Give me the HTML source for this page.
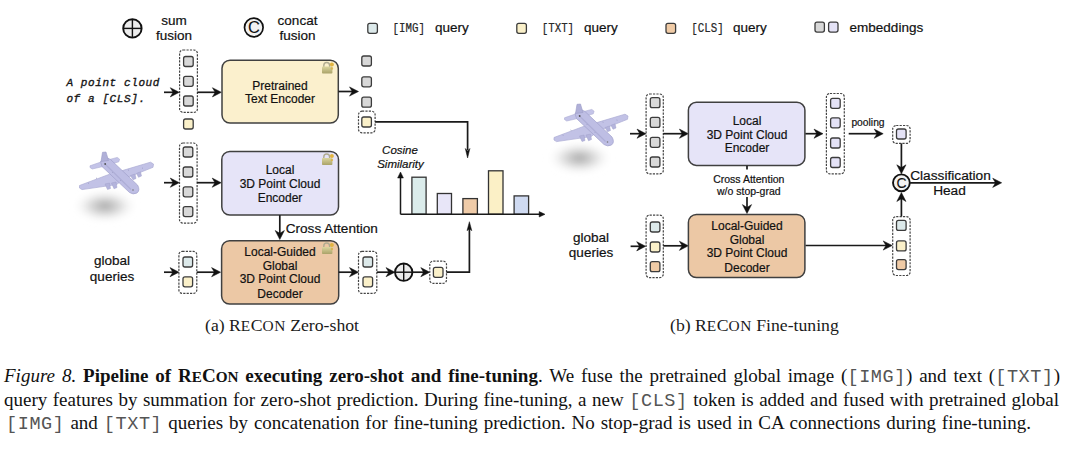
<!DOCTYPE html>
<html><head><meta charset="utf-8">
<style>
html,body{margin:0;padding:0;background:#fff;width:1080px;height:449px;overflow:hidden;}
svg{position:absolute;left:0;top:0;}
svg text{font-family:"Liberation Sans",sans-serif;fill:#111;stroke:#111;stroke-width:0.2px;}
.sub{position:absolute;top:315px;font-family:"Liberation Serif",serif;font-size:17.7px;line-height:20px;color:#1a1a1a;white-space:nowrap;}
.sc{font-size:0.8em;}
.sub .sc{font-size:0.87em;letter-spacing:0.5px}
.cap{position:absolute;font-family:"Liberation Serif",serif;font-size:19px;line-height:23px;color:#111;text-align:justify;text-align-last:justify;}
.cap tt{font-family:"Liberation Mono",monospace;font-size:18.5px;letter-spacing:0.6px;color:#555;}
</style></head><body>
<svg width="1080" height="449" viewBox="0 0 1080 449">

<defs>
 <filter id="blur2" x="-50%" y="-50%" width="200%" height="200%"><feGaussianBlur stdDeviation="3"/></filter>
 <linearGradient id="lockg" x1="0" y1="0" x2="0" y2="1"><stop offset="0" stop-color="#dcd6a0"/><stop offset="1" stop-color="#a9a268"/></linearGradient>
 <radialGradient id="shad"><stop offset="0" stop-color="#8f8f8f" stop-opacity="0.8"/><stop offset="0.45" stop-color="#b4b4b4" stop-opacity="0.5"/><stop offset="1" stop-color="#fff" stop-opacity="0"/></radialGradient>
 <g id="plane">
  <ellipse cx="105" cy="206" rx="33" ry="17" fill="url(#shad)" filter="url(#blur2)"/>
  <path d="M79.5,185.5 L109.6,174.2 L122.3,170.6 L150.5,162.2 L153.5,164 L153,167.3 L124.6,178.6 L116.5,184.6 L82,189.6 L79.5,188 Z" fill="#c2c2e6" stroke="#acacd4" stroke-width="0.7"/>
  <path d="M105,184 L109.5,183 L110.5,188.5 L107.5,189.5 Z M111.5,183 L116,182 L117,187.5 L114,188.8 Z M130.5,175.5 L135,174 L136,178.5 L133,179.8 Z M136.5,173.3 L140.5,171.8 L141.5,176 L138.5,177.3 Z" fill="#b4b4dc" stroke="#a2a2cc" stroke-width="0.5"/>
  <path d="M90,165.8 L103.8,161 L117.3,157.4 L119.6,159.2 L118.8,161.8 L104,166.3 L92.2,169 L90,167.5 Z" fill="#c4c4e8" stroke="#acacd4" stroke-width="0.6"/>
  <path d="M100.5,161.5 L105.5,157 L110.5,159.5 L137.5,185 Q140.5,190 137,193 Q133,195 129.5,192.5 L102,166.5 Z" fill="#bebee4" stroke="#a0a0cc" stroke-width="0.7"/>
  <path d="M101,161.5 L102.5,152.3 L106,152 L108.5,160.5 Z" fill="#b0b0d8" stroke="#9c9cc8" stroke-width="0.6"/>
  <path d="M104,163 L131,189.5" stroke="#a4a4ce" stroke-width="1.2" opacity="0.6"/>
  <path d="M96,178 l1,0.5 M88,183 l1,0.4 M128,170 l1,0.3 M142,168 l1,0.3 M120,180 l0.8,0.8 M112,172 l0.8,0.8" stroke="#9a9ac4" stroke-width="0.8"/>
  <circle cx="105.2" cy="164" r="0.9" fill="#555"/>
  <circle cx="133" cy="190" r="0.8" fill="#777"/>
 </g>
</defs>
<circle cx="132.4" cy="28.4" r="9.2" fill="#ececec" stroke="#111" stroke-width="1.9"/>
<line x1="123.2" y1="28.4" x2="141.6" y2="28.4" stroke="#111" stroke-width="1.4249999999999998"/>
<line x1="132.4" y1="19.2" x2="132.4" y2="37.599999999999994" stroke="#111" stroke-width="1.4249999999999998"/>
<text x="174" y="25" font-size="13.5" text-anchor="middle" >sum</text>
<text x="174" y="40.3" font-size="13.5" text-anchor="middle" >fusion</text>
<circle cx="253.8" cy="27.5" r="9.3" fill="#f2f2f2" stroke="#111" stroke-width="1.7"/>
<text x="254.0" y="33.44" font-size="16.5" text-anchor="middle" style="stroke-width:0.1px">C</text>
<text x="297.5" y="25" font-size="13.5" text-anchor="middle" >concat</text>
<text x="297.5" y="40.3" font-size="13.5" text-anchor="middle" >fusion</text>
<rect x="367.8" y="23.3" width="9.6" height="10" rx="2" fill="#dce9ea" stroke="#3c3c3c" stroke-width="1.3"/>
<text x="392.6" y="32.2" font-size="13.2" text-anchor="start" textLength="32.4" lengthAdjust="spacingAndGlyphs" style="font-family:'Liberation Mono',monospace;fill:#2a2a2a">[IMG]</text>
<text x="435" y="32.2" font-size="13.5" text-anchor="start" >query</text>
<rect x="516.8" y="23.3" width="9.6" height="10" rx="2" fill="#faf0c9" stroke="#3c3c3c" stroke-width="1.3"/>
<text x="541.7" y="32.2" font-size="13.2" text-anchor="start" textLength="32.4" lengthAdjust="spacingAndGlyphs" style="font-family:'Liberation Mono',monospace;fill:#2a2a2a">[TXT]</text>
<text x="583.9" y="32.2" font-size="13.5" text-anchor="start" >query</text>
<rect x="666" y="23.3" width="9.6" height="10" rx="2" fill="#f0cba6" stroke="#3c3c3c" stroke-width="1.3"/>
<text x="691.3" y="32.2" font-size="13.2" text-anchor="start" textLength="32.4" lengthAdjust="spacingAndGlyphs" style="font-family:'Liberation Mono',monospace;fill:#2a2a2a">[CLS]</text>
<text x="732.9" y="32.2" font-size="13.5" text-anchor="start" >query</text>
<rect x="815" y="22.1" width="9.4" height="10" rx="2" fill="#d8d8d8" stroke="#3c3c3c" stroke-width="1.3"/>
<rect x="828.6" y="22.1" width="9.4" height="10" rx="2" fill="#e4e2f6" stroke="#3c3c3c" stroke-width="1.3"/>
<text x="849.6" y="32" font-size="13.5" text-anchor="start" >embeddings</text>
<text x="66.4" y="85.5" font-size="11" text-anchor="start" style="font-family:'Liberation Mono',monospace;font-style:italic;stroke:#1a1a1a;stroke-width:0.35;letter-spacing:0.6px">A point cloud</text>
<text x="66.4" y="101.9" font-size="11" text-anchor="start" style="font-family:'Liberation Mono',monospace;font-style:italic;stroke:#1a1a1a;stroke-width:0.35;letter-spacing:0.6px">of a [CLS].</text>
<polyline points="164,92.3 174.3,92.3" fill="none" stroke="#1a1a1a" stroke-width="1.7"/>
<path d="M179.3,92.3 L170.3,87.7 L173.1,92.3 L170.3,96.9 Z" fill="#111" stroke="#111" stroke-width="0.5" stroke-linejoin="miter"/>
<rect x="179.6" y="50" width="17.80000000000001" height="62.400000000000006" rx="3.5" fill="none" stroke="#444" stroke-width="1.2" stroke-dasharray="2.2 1.2"/>
<rect x="183.6" y="56.5" width="9.6" height="10" rx="2" fill="#d8d8d8" stroke="#3c3c3c" stroke-width="1.3"/>
<rect x="183.6" y="76.3" width="9.6" height="10" rx="2" fill="#d8d8d8" stroke="#3c3c3c" stroke-width="1.3"/>
<rect x="183.6" y="96" width="9.6" height="10" rx="2" fill="#d8d8d8" stroke="#3c3c3c" stroke-width="1.3"/>
<rect x="183.6" y="119" width="9.6" height="10" rx="2" fill="#faf0c9" stroke="#3c3c3c" stroke-width="1.3"/>
<polyline points="197.4,92.3 216.4,92.3" fill="none" stroke="#1a1a1a" stroke-width="1.7"/>
<path d="M221.4,92.3 L212.4,87.7 L215.2,92.3 L212.4,96.9 Z" fill="#111" stroke="#111" stroke-width="0.5" stroke-linejoin="miter"/>
<rect x="222" y="60.2" width="116.30000000000001" height="62.89999999999999" rx="8" fill="#fbf0cd" stroke="#404040" stroke-width="1.5"/>
<g transform="translate(322,62)"><path d="M1.8,5 V3.4 A2.9,2.9 0 0 1 7.6,3.4 V5" fill="none" stroke="#b0ab90" stroke-width="1.4"/><rect x="0" y="4.4" width="10.4" height="7.2" rx="0.8" fill="url(#lockg)"/><circle cx="9.9" cy="2.6" r="2" fill="#e2b440"/><circle cx="9.9" cy="6.5" r="1.2" fill="#d8b040" opacity="0.8"/></g>
<text x="280" y="89.5" font-size="12" text-anchor="middle" >Pretrained</text>
<text x="280" y="103.2" font-size="12" text-anchor="middle" >Text Encoder</text>
<polyline points="338.4,91.5 353.5,91.5" fill="none" stroke="#1a1a1a" stroke-width="1.7"/>
<path d="M358.5,91.5 L349.5,86.9 L352.3,91.5 L349.5,96.1 Z" fill="#111" stroke="#111" stroke-width="0.5" stroke-linejoin="miter"/>
<rect x="361.8" y="56" width="9.6" height="10" rx="2" fill="#d8d8d8" stroke="#3c3c3c" stroke-width="1.3"/>
<rect x="361.8" y="76.8" width="9.6" height="10" rx="2" fill="#d8d8d8" stroke="#3c3c3c" stroke-width="1.3"/>
<rect x="361.8" y="97.2" width="9.6" height="10" rx="2" fill="#d8d8d8" stroke="#3c3c3c" stroke-width="1.3"/>
<rect x="361.8" y="117" width="9.6" height="10" rx="2" fill="#faf0c9" stroke="#3c3c3c" stroke-width="1.3"/>
<rect x="358.5" y="111.2" width="16.600000000000023" height="21.60000000000001" rx="3.5" fill="none" stroke="#444" stroke-width="1.2" stroke-dasharray="2.2 1.2"/>
<polyline points="375.1,121.8 467.6,121.8 467.6,150" fill="none" stroke="#1a1a1a" stroke-width="1.7"/>
<path d="M467.6,158.0 L465.3,148.5 L467.6,151.0 L469.9,148.5 Z" fill="#111" stroke="#111" stroke-width="0.5" stroke-linejoin="miter"/>
<use href="#plane" x="0" y="0"/>
<polyline points="164,182.7 174.3,182.7" fill="none" stroke="#1a1a1a" stroke-width="1.7"/>
<path d="M179.3,182.7 L170.3,178.1 L173.1,182.7 L170.3,187.3 Z" fill="#111" stroke="#111" stroke-width="0.5" stroke-linejoin="miter"/>
<rect x="179.5" y="143" width="17.599999999999994" height="80.19999999999999" rx="3.5" fill="none" stroke="#444" stroke-width="1.2" stroke-dasharray="2.2 1.2"/>
<rect x="183.2" y="147" width="9.6" height="10" rx="2" fill="#d8d8d8" stroke="#3c3c3c" stroke-width="1.3"/>
<rect x="183.2" y="167" width="9.6" height="10" rx="2" fill="#d8d8d8" stroke="#3c3c3c" stroke-width="1.3"/>
<rect x="183.2" y="186.8" width="9.6" height="10" rx="2" fill="#d8d8d8" stroke="#3c3c3c" stroke-width="1.3"/>
<rect x="183.2" y="206.6" width="9.6" height="10" rx="2" fill="#d8d8d8" stroke="#3c3c3c" stroke-width="1.3"/>
<polyline points="197.1,182.7 216.2,182.7" fill="none" stroke="#1a1a1a" stroke-width="1.7"/>
<path d="M221.2,182.7 L212.2,178.1 L215.0,182.7 L212.2,187.3 Z" fill="#111" stroke="#111" stroke-width="0.5" stroke-linejoin="miter"/>
<rect x="221.8" y="151.5" width="116.69999999999999" height="63.599999999999994" rx="8" fill="#e6e4f8" stroke="#404040" stroke-width="1.5"/>
<g transform="translate(322,153.5)"><path d="M1.8,5 V3.4 A2.9,2.9 0 0 1 7.6,3.4 V5" fill="none" stroke="#b0ab90" stroke-width="1.4"/><rect x="0" y="4.4" width="10.4" height="7.2" rx="0.8" fill="url(#lockg)"/><circle cx="9.9" cy="2.6" r="2" fill="#e2b440"/><circle cx="9.9" cy="6.5" r="1.2" fill="#d8b040" opacity="0.8"/></g>
<text x="280" y="174.1" font-size="12" text-anchor="middle" >Local</text>
<text x="280" y="187.9" font-size="12" text-anchor="middle" >3D Point Cloud</text>
<text x="280" y="201.7" font-size="12" text-anchor="middle" >Encoder</text>
<polyline points="279.8,215.1 279.8,235" fill="none" stroke="#1a1a1a" stroke-width="1.7"/>
<path d="M279.8,239.5 L275.2,230.5 L279.8,233.3 L284.4,230.5 Z" fill="#111" stroke="#111" stroke-width="0.5" stroke-linejoin="miter"/>
<text x="285.7" y="233.1" font-size="13.6" text-anchor="start" >Cross Attention</text>
<text x="400" y="154" font-size="11.5" text-anchor="middle" font-style="italic">Cosine</text>
<text x="400.5" y="167.9" font-size="11.5" text-anchor="middle" font-style="italic">Similarity</text>
<polyline points="400.5,214.3 400.5,177" fill="none" stroke="#1a1a1a" stroke-width="1.5"/>
<path d="M400.5,172.0 L397.6,178.0 L400.5,178.0 L403.4,178.0 Z" fill="#111" stroke="#111" stroke-width="0.5" stroke-linejoin="miter"/>
<rect x="411.9" y="177.2" width="14.200000000000045" height="37.10000000000002" fill="#dbeceb" stroke="#333" stroke-width="1.3"/>
<rect x="437.3" y="193.5" width="14.199999999999989" height="20.80000000000001" fill="#e8e6f8" stroke="#333" stroke-width="1.3"/>
<rect x="462.9" y="198.6" width="14.5" height="15.700000000000017" fill="#efcba8" stroke="#333" stroke-width="1.3"/>
<rect x="488.5" y="170.8" width="14.5" height="43.5" fill="#fbf0c6" stroke="#333" stroke-width="1.3"/>
<rect x="514.1" y="195.9" width="14.5" height="18.400000000000006" fill="#cfdaf1" stroke="#333" stroke-width="1.3"/>
<polyline points="400.5,214.3 540,214.3" fill="none" stroke="#1a1a1a" stroke-width="1.5"/>
<path d="M545.0,214.3 L539.2,211.6 L539.2,214.3 L539.2,217.0 Z" fill="#111" stroke="#111" stroke-width="0.5" stroke-linejoin="miter"/>
<text x="112" y="264.5" font-size="13.5" text-anchor="middle" >global</text>
<text x="112" y="280.6" font-size="13.5" text-anchor="middle" >queries</text>
<polyline points="164,272.2 174,272.2" fill="none" stroke="#1a1a1a" stroke-width="1.7"/>
<path d="M179.0,272.2 L170.0,267.6 L172.8,272.2 L170.0,276.8 Z" fill="#111" stroke="#111" stroke-width="0.5" stroke-linejoin="miter"/>
<rect x="178.9" y="251.3" width="17.900000000000006" height="42.099999999999966" rx="3.5" fill="none" stroke="#444" stroke-width="1.2" stroke-dasharray="2.2 1.2"/>
<rect x="183" y="257" width="9.6" height="10" rx="2" fill="#dce9ea" stroke="#3c3c3c" stroke-width="1.3"/>
<rect x="183" y="276.8" width="9.6" height="10" rx="2" fill="#faf0c9" stroke="#3c3c3c" stroke-width="1.3"/>
<polyline points="196.8,272.2 215.6,272.2" fill="none" stroke="#1a1a1a" stroke-width="1.7"/>
<path d="M220.6,272.2 L211.6,267.6 L214.4,272.2 L211.6,276.8 Z" fill="#111" stroke="#111" stroke-width="0.5" stroke-linejoin="miter"/>
<rect x="221.6" y="240.7" width="117.1" height="63.400000000000034" rx="8" fill="#ecc8a5" stroke="#404040" stroke-width="1.5"/>
<g transform="translate(322,242.5)"><path d="M1.8,5 V3.4 A2.9,2.9 0 0 1 7.6,3.4 V5" fill="none" stroke="#b0ab90" stroke-width="1.4"/><rect x="0" y="4.4" width="10.4" height="7.2" rx="0.8" fill="url(#lockg)"/><circle cx="9.9" cy="2.6" r="2" fill="#e2b440"/><circle cx="9.9" cy="6.5" r="1.2" fill="#d8b040" opacity="0.8"/></g>
<text x="280" y="255.7" font-size="12" text-anchor="middle" >Local-Guided</text>
<text x="280" y="269.6" font-size="12" text-anchor="middle" >Global</text>
<text x="280" y="283.4" font-size="12" text-anchor="middle" >3D Point Cloud</text>
<text x="280" y="298.1" font-size="12" text-anchor="middle" >Decoder</text>
<polyline points="338.7,272.2 353.5,272.2" fill="none" stroke="#1a1a1a" stroke-width="1.7"/>
<path d="M358.5,272.2 L349.5,267.6 L352.3,272.2 L349.5,276.8 Z" fill="#111" stroke="#111" stroke-width="0.5" stroke-linejoin="miter"/>
<rect x="358.5" y="251.3" width="18.30000000000001" height="42.099999999999966" rx="3.5" fill="none" stroke="#444" stroke-width="1.2" stroke-dasharray="2.2 1.2"/>
<rect x="363" y="257" width="9.6" height="10" rx="2" fill="#dce9ea" stroke="#3c3c3c" stroke-width="1.3"/>
<rect x="363" y="276.8" width="9.6" height="10" rx="2" fill="#faf0c9" stroke="#3c3c3c" stroke-width="1.3"/>
<polyline points="376.8,272.2 390,272.2" fill="none" stroke="#1a1a1a" stroke-width="1.7"/>
<path d="M395.0,272.2 L386.0,267.6 L388.8,272.2 L386.0,276.8 Z" fill="#111" stroke="#111" stroke-width="0.5" stroke-linejoin="miter"/>
<circle cx="403.7" cy="272.2" r="8.7" fill="#ececec" stroke="#111" stroke-width="1.9"/>
<line x1="395.0" y1="272.2" x2="412.4" y2="272.2" stroke="#111" stroke-width="1.4249999999999998"/>
<line x1="403.7" y1="263.5" x2="403.7" y2="280.9" stroke="#111" stroke-width="1.4249999999999998"/>
<polyline points="412.4,272.2 424.8,272.2" fill="none" stroke="#1a1a1a" stroke-width="1.7"/>
<path d="M429.8,272.2 L420.8,267.6 L423.6,272.2 L420.8,276.8 Z" fill="#111" stroke="#111" stroke-width="0.5" stroke-linejoin="miter"/>
<rect x="429.8" y="261.1" width="16.69999999999999" height="22.299999999999955" rx="3.5" fill="none" stroke="#444" stroke-width="1.2" stroke-dasharray="2.2 1.2"/>
<rect x="433.4" y="267.3" width="9.6" height="10" rx="2" fill="#faf0c9" stroke="#3c3c3c" stroke-width="1.3"/>
<polyline points="446.5,272.2 469.4,272.2 469.4,228" fill="none" stroke="#1a1a1a" stroke-width="1.7"/>
<path d="M469.4,221.7 L467.0,230.7 L469.4,228.7 L471.8,230.7 Z" fill="#111" stroke="#111" stroke-width="0.5" stroke-linejoin="miter"/>
<use href="#plane" x="474.5" y="-48"/>
<polyline points="630,133.7 641,133.7" fill="none" stroke="#1a1a1a" stroke-width="1.7"/>
<path d="M646.0,133.7 L637.0,129.1 L639.8,133.7 L637.0,138.3 Z" fill="#111" stroke="#111" stroke-width="0.5" stroke-linejoin="miter"/>
<rect x="646.1" y="94" width="17.199999999999932" height="79.9" rx="3.5" fill="none" stroke="#444" stroke-width="1.2" stroke-dasharray="2.2 1.2"/>
<rect x="650.3" y="97.7" width="9.6" height="10" rx="2" fill="#d8d8d8" stroke="#3c3c3c" stroke-width="1.3"/>
<rect x="650.3" y="117.4" width="9.6" height="10" rx="2" fill="#d8d8d8" stroke="#3c3c3c" stroke-width="1.3"/>
<rect x="650.3" y="137.3" width="9.6" height="10" rx="2" fill="#d8d8d8" stroke="#3c3c3c" stroke-width="1.3"/>
<rect x="650.3" y="157" width="9.6" height="10" rx="2" fill="#d8d8d8" stroke="#3c3c3c" stroke-width="1.3"/>
<polyline points="663.3,133.7 683.4,133.7" fill="none" stroke="#1a1a1a" stroke-width="1.7"/>
<path d="M688.4,133.7 L679.4,129.1 L682.2,133.7 L679.4,138.3 Z" fill="#111" stroke="#111" stroke-width="0.5" stroke-linejoin="miter"/>
<rect x="688.4" y="102.3" width="116.5" height="63.10000000000001" rx="8" fill="#e6e4f8" stroke="#404040" stroke-width="1.5"/>
<text x="747" y="125.2" font-size="12" text-anchor="middle" >Local</text>
<text x="747" y="138.8" font-size="12" text-anchor="middle" >3D Point Cloud</text>
<text x="747" y="152.3" font-size="12" text-anchor="middle" >Encoder</text>
<polyline points="805.4,133.7 818,133.7" fill="none" stroke="#1a1a1a" stroke-width="1.7"/>
<path d="M823.0,133.7 L814.0,129.1 L816.8,133.7 L814.0,138.3 Z" fill="#111" stroke="#111" stroke-width="0.5" stroke-linejoin="miter"/>
<rect x="826.4" y="93.5" width="17.899999999999977" height="80.4" rx="3.5" fill="none" stroke="#444" stroke-width="1.2" stroke-dasharray="2.2 1.2"/>
<rect x="830.6" y="98.3" width="9.6" height="10" rx="2" fill="#e4e2f6" stroke="#3c3c3c" stroke-width="1.3"/>
<rect x="830.6" y="117.8" width="9.6" height="10" rx="2" fill="#e4e2f6" stroke="#3c3c3c" stroke-width="1.3"/>
<rect x="830.6" y="138" width="9.6" height="10" rx="2" fill="#e4e2f6" stroke="#3c3c3c" stroke-width="1.3"/>
<rect x="830.6" y="157.5" width="9.6" height="10" rx="2" fill="#e4e2f6" stroke="#3c3c3c" stroke-width="1.3"/>
<text x="868" y="126" font-size="10.3" text-anchor="middle" >pooling</text>
<polyline points="848.7,133.7 878.2,133.7" fill="none" stroke="#1a1a1a" stroke-width="1.7"/>
<path d="M883.2,133.7 L874.2,129.1 L877.0,133.7 L874.2,138.3 Z" fill="#111" stroke="#111" stroke-width="0.5" stroke-linejoin="miter"/>
<rect x="892.7" y="125.5" width="17.399999999999977" height="17.900000000000006" rx="3.5" fill="none" stroke="#444" stroke-width="1.2" stroke-dasharray="2.2 1.2"/>
<rect x="896.5" y="129" width="9.6" height="10" rx="2" fill="#e4e2f6" stroke="#3c3c3c" stroke-width="1.3"/>
<polyline points="901.4,143.4 901.4,169" fill="none" stroke="#1a1a1a" stroke-width="1.7"/>
<path d="M901.4,173.8 L896.8,164.8 L901.4,167.6 L906.0,164.8 Z" fill="#111" stroke="#111" stroke-width="0.5" stroke-linejoin="miter"/>
<circle cx="901.4" cy="182.8" r="8.4" fill="#f2f2f2" stroke="#111" stroke-width="1.9"/>
<text x="901.6" y="187.84" font-size="14" text-anchor="middle" style="stroke-width:0.1px">C</text>
<polyline points="910.1,182.8 996,182.8" fill="none" stroke="#1a1a1a" stroke-width="1.7"/>
<path d="M1001.7,182.8 L992.7,178.2 L995.5,182.8 L992.7,187.4 Z" fill="#111" stroke="#111" stroke-width="0.5" stroke-linejoin="miter"/>
<text x="950.5" y="180.3" font-size="13.7" text-anchor="middle" >Classification</text>
<text x="949.5" y="194.6" font-size="13.7" text-anchor="middle" >Head</text>
<polyline points="901.4,216.6 901.4,197" fill="none" stroke="#1a1a1a" stroke-width="1.7"/>
<path d="M901.4,192.5 L896.8,201.5 L901.4,198.7 L906.0,201.5 Z" fill="#111" stroke="#111" stroke-width="0.5" stroke-linejoin="miter"/>
<rect x="892.7" y="216.6" width="17.399999999999977" height="58.900000000000006" rx="3.5" fill="none" stroke="#444" stroke-width="1.2" stroke-dasharray="2.2 1.2"/>
<rect x="896.5" y="220.4" width="9.6" height="10" rx="2" fill="#dce9ea" stroke="#3c3c3c" stroke-width="1.3"/>
<rect x="896.5" y="240.9" width="9.6" height="10" rx="2" fill="#faf0c9" stroke="#3c3c3c" stroke-width="1.3"/>
<rect x="896.5" y="259.6" width="9.6" height="10" rx="2" fill="#f0cba6" stroke="#3c3c3c" stroke-width="1.3"/>
<polyline points="805.4,245.5 887.2,245.5" fill="none" stroke="#1a1a1a" stroke-width="1.7"/>
<path d="M892.2,245.5 L883.2,240.9 L886.0,245.5 L883.2,250.1 Z" fill="#111" stroke="#111" stroke-width="0.5" stroke-linejoin="miter"/>
<polyline points="747,165.7 747,169.5" fill="none" stroke="#1a1a1a" stroke-width="1.7"/>
<text x="748.8" y="183" font-size="10.5" text-anchor="middle" >Cross Attention</text>
<text x="748.8" y="194.6" font-size="10.5" text-anchor="middle" >w/o stop-grad</text>
<polyline points="747,197 747,209" fill="none" stroke="#1a1a1a" stroke-width="1.7"/>
<path d="M747.0,213.6 L742.4,204.6 L747.0,207.4 L751.6,204.6 Z" fill="#111" stroke="#111" stroke-width="0.5" stroke-linejoin="miter"/>
<text x="591" y="241.5" font-size="13.5" text-anchor="middle" >global</text>
<text x="591" y="257.1" font-size="13.5" text-anchor="middle" >queries</text>
<polyline points="630.6,246.3 640.7,246.3" fill="none" stroke="#1a1a1a" stroke-width="1.7"/>
<path d="M645.7,246.3 L636.7,241.7 L639.5,246.3 L636.7,250.9 Z" fill="#111" stroke="#111" stroke-width="0.5" stroke-linejoin="miter"/>
<rect x="646.1" y="215.1" width="17.199999999999932" height="62.50000000000003" rx="3.5" fill="none" stroke="#444" stroke-width="1.2" stroke-dasharray="2.2 1.2"/>
<rect x="650.3" y="222" width="9.6" height="10" rx="2" fill="#dce9ea" stroke="#3c3c3c" stroke-width="1.3"/>
<rect x="650.3" y="242" width="9.6" height="10" rx="2" fill="#faf0c9" stroke="#3c3c3c" stroke-width="1.3"/>
<rect x="650.3" y="261.7" width="9.6" height="10" rx="2" fill="#f0cba6" stroke="#3c3c3c" stroke-width="1.3"/>
<polyline points="663.3,245.8 683.4,245.8" fill="none" stroke="#1a1a1a" stroke-width="1.7"/>
<path d="M688.4,245.8 L679.4,241.2 L682.2,245.8 L679.4,250.4 Z" fill="#111" stroke="#111" stroke-width="0.5" stroke-linejoin="miter"/>
<rect x="688.4" y="214.4" width="116.5" height="63.20000000000002" rx="8" fill="#ecc8a5" stroke="#404040" stroke-width="1.5"/>
<text x="747" y="230.2" font-size="12" text-anchor="middle" >Local-Guided</text>
<text x="747" y="243.8" font-size="12" text-anchor="middle" >Global</text>
<text x="747" y="257.1" font-size="12" text-anchor="middle" >3D Point Cloud</text>
<text x="747" y="271.9" font-size="12" text-anchor="middle" >Decoder</text>
</svg>
<div class="sub" style="left:205px">(a) R<span class="sc">E</span>C<span class="sc">ON</span> Zero-shot</div>
<div class="sub" style="left:670px">(b) R<span class="sc">E</span>C<span class="sc">ON</span> Fine-tuning</div>

<div class="cap" style="top:364.3px;left:4px;width:1056px"><i>Figure 8.</i> <b>Pipeline of R<span class="sc">E</span>C<span class="sc">ON</span> executing zero-shot and fine-tuning</b>. We fuse the pretrained global image (<tt>[IMG]</tt>) and text (<tt>[TXT]</tt>)</div>
<div class="cap" style="top:387.6px;left:4px;width:1055px">query features by summation for zero-shot prediction. During fine-tuning, a new <tt>[CLS]</tt> token is added and fused with pretrained global</div>
<div class="cap" style="top:411px;left:6px;width:1025px"><tt>[IMG]</tt> and <tt>[TXT]</tt> queries by concatenation for fine-tuning prediction. No stop-grad is used in CA connections during fine-tuning.</div>

</body></html>
